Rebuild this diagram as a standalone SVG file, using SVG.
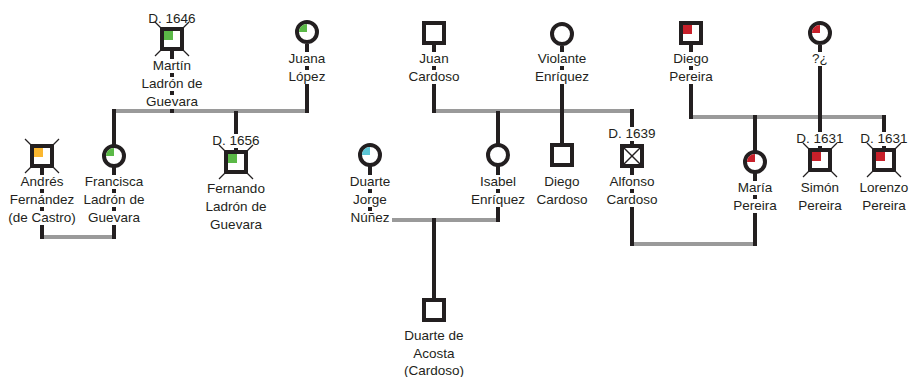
<svg xmlns="http://www.w3.org/2000/svg" xmlns:xlink="http://www.w3.org/1999/xlink" width="909" height="377" viewBox="0 0 909 377">
<style>
text{font-family:"Liberation Sans",Arial,sans-serif;font-size:13.5px;fill:#231f20;text-anchor:middle}
.k{stroke:#231f20;stroke-width:4;fill:none}
.g{stroke:#9a9a9a;stroke-width:4;fill:none}
.shape{fill:#fff;stroke:#231f20;stroke-width:4}
.tick{stroke:#231f20;stroke-width:1.2}
.bg{fill:#fff}
.green{fill:#5bb947}.orange{fill:#fbb72f}.red{fill:#c8202a}.cyan{fill:#5cc6d6}
</style>
<defs>
<rect id="sq" class="shape" x="-10" y="-10" width="20" height="20"/>
<circle id="ci" class="shape" r="10"/>
<g id="ticks"><line class="tick" x1="-11" y1="-11" x2="-17" y2="-17"/><line class="tick" x1="11" y1="-11" x2="17" y2="-17"/><line class="tick" x1="-11" y1="11" x2="-17" y2="17"/><line class="tick" x1="11" y1="11" x2="17" y2="17"/></g>
<rect id="qs" x="-8" y="-8" width="9" height="9"/>
<path id="qc" d="M0,0 H-8 A8,8 0 0 1 0,-8 Z"/>
<g id="xx"><line class="tick" x1="-8" y1="-8" x2="8" y2="8" style="stroke-width:1.5"/><line class="tick" x1="8" y1="-8" x2="-8" y2="8" style="stroke-width:1.5"/></g>
</defs>

<g id="connectors">
<path class="g" d="M114,111 H307 M42,237 H114 M434,111 H632 M392,220 H498 M632,244 H755 M691,117 H884"/>
<path class="k" d="M172,51 V113 M307,44 V113 M114,109 V239 M236,111 V150 M42,156 V239 M434,45 V113 M562,46 V143 M498,111 V222 M370,157 V214 M632,109 V246 M434,218 V298 M691,45 V119 M820,45 V148 M755,115 V246 M884,115 V148"/>
</g>

<g id="martin">
<use href="#ticks" x="172" y="39"/><use href="#sq" x="172" y="39"/><use href="#qs" class="green" x="172" y="39"/>
<text x="172" y="23">D. 1646</text>
<rect class="bg" x="168" y="59" width="8" height="14"/><rect class="bg" x="168" y="77" width="8" height="14"/><rect class="bg" x="168" y="95" width="8" height="14"/>
<text x="172" y="70">Martín</text><text x="172" y="88">Ladrón de</text><text x="172" y="106">Guevara</text>
</g>

<g id="juana">
<use href="#ci" x="307" y="32"/><use href="#qc" class="green" x="307" y="32"/>
<rect class="bg" x="303" y="52" width="8" height="14"/><rect class="bg" x="303" y="70" width="8" height="14"/>
<text x="307" y="63">Juana</text><text x="307" y="81">López</text>
</g>

<g id="andres">
<use href="#ticks" x="42" y="156"/><use href="#sq" x="42" y="156"/><use href="#qs" class="orange" x="42" y="156"/>
<rect class="bg" x="38" y="175" width="8" height="14"/><rect class="bg" x="38" y="193" width="8" height="14"/><rect class="bg" x="38" y="211" width="8" height="14"/>
<text x="42" y="186">Andrés</text><text x="42" y="204">Fernández</text><text x="42" y="222">(de Castro)</text>
</g>

<g id="francisca">
<use href="#ci" x="114" y="156"/><use href="#qc" class="green" x="114" y="156"/>
<rect class="bg" x="110" y="175" width="8" height="14"/><rect class="bg" x="110" y="193" width="8" height="14"/><rect class="bg" x="110" y="211" width="8" height="14"/>
<text x="114" y="186">Francisca</text><text x="114" y="204">Ladrón de</text><text x="114" y="222">Guevara</text>
</g>

<g id="fernando">
<rect class="bg" x="232" y="134" width="8" height="14"/>
<text x="236" y="145">D. 1656</text>
<use href="#ticks" x="236" y="162"/><use href="#sq" x="236" y="162"/><use href="#qs" class="green" x="236" y="162"/>
<text x="236" y="193">Fernando</text><text x="236" y="211">Ladrón de</text><text x="236" y="229">Guevara</text>
</g>

<g id="juan">
<use href="#sq" x="434" y="33"/>
<rect class="bg" x="430" y="52" width="8" height="14"/><rect class="bg" x="430" y="70" width="8" height="14"/>
<text x="434" y="63">Juan</text><text x="434" y="81">Cardoso</text>
</g>

<g id="violante">
<use href="#ci" x="562" y="34"/>
<rect class="bg" x="558" y="52" width="8" height="14"/><rect class="bg" x="558" y="70" width="8" height="14"/>
<text x="562" y="63">Violante</text><text x="562" y="81">Enríquez</text>
</g>

<g id="duarte-jorge">
<use href="#ci" x="370" y="155"/><use href="#qc" class="cyan" x="370" y="155"/>
<rect class="bg" x="366" y="175" width="8" height="14"/><rect class="bg" x="366" y="193" width="8" height="14"/><rect class="bg" x="366" y="211" width="8" height="14"/>
<text x="370" y="186">Duarte</text><text x="370" y="204">Jorge</text><text x="370" y="222">Núñez</text>
</g>

<g id="isabel">
<use href="#ci" x="498" y="155"/>
<rect class="bg" x="494" y="175" width="8" height="14"/><rect class="bg" x="494" y="193" width="8" height="14"/>
<text x="498" y="186">Isabel</text><text x="498" y="204">Enríquez</text>
</g>

<g id="diego-cardoso">
<use href="#sq" x="562" y="155"/>
<text x="562" y="186">Diego</text><text x="562" y="204">Cardoso</text>
</g>

<g id="alfonso">
<rect class="bg" x="628" y="127" width="8" height="14"/>
<text x="632" y="138">D. 1639</text>
<use href="#sq" x="632" y="156"/><use href="#xx" x="632" y="156"/>
<rect class="bg" x="628" y="175" width="8" height="14"/><rect class="bg" x="628" y="193" width="8" height="14"/>
<text x="632" y="186">Alfonso</text><text x="632" y="204">Cardoso</text>
</g>

<g id="duarte-acosta">
<use href="#sq" x="434" y="310"/>
<text x="434" y="340">Duarte  de</text><text x="434" y="358">Acosta</text><text x="434" y="375">(Cardoso)</text>
</g>

<g id="diego-pereira">
<use href="#sq" x="691" y="33"/><use href="#qs" class="red" x="691" y="33"/>
<rect class="bg" x="687" y="52" width="8" height="14"/><rect class="bg" x="687" y="70" width="8" height="14"/>
<text x="691" y="63">Diego</text><text x="691" y="81">Pereira</text>
</g>

<g id="unknown">
<use href="#ci" x="820" y="33"/><use href="#qc" class="red" x="820" y="33"/>
<rect class="bg" x="816" y="52" width="8" height="14"/>
<text x="820" y="63">?¿</text>
</g>

<g id="maria">
<use href="#ci" x="755" y="162"/><use href="#qc" class="red" x="755" y="162"/>
<rect class="bg" x="751" y="181" width="8" height="14"/><rect class="bg" x="751" y="199" width="8" height="14"/>
<text x="755" y="192">María</text><text x="755" y="210">Pereira</text>
</g>

<g id="simon">
<rect class="bg" x="816" y="132" width="8" height="14"/>
<text x="820" y="143">D. 1631</text>
<use href="#ticks" x="820" y="160"/><use href="#sq" x="820" y="160"/><use href="#qs" class="red" x="820" y="160"/>
<text x="820" y="192">Simón</text><text x="820" y="210">Pereira</text>
</g>

<g id="lorenzo">
<rect class="bg" x="880" y="132" width="8" height="14"/>
<text x="884" y="143">D. 1631</text>
<use href="#ticks" x="884" y="160"/><use href="#sq" x="884" y="160"/><use href="#qs" class="red" x="884" y="160"/>
<text x="884" y="192">Lorenzo</text><text x="884" y="210">Pereira</text>
</g>
</svg>
